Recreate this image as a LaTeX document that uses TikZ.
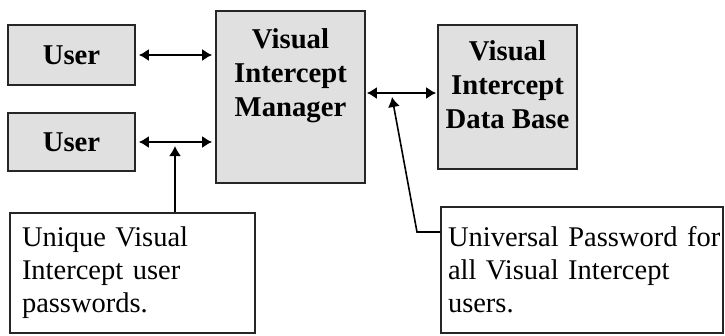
\documentclass[tikz,border=0pt]{standalone}
\usepackage{fontspec}
\setmainfont{Liberation Serif}
\usetikzlibrary{calc, arrows.meta}

\tikzset{
  grbox/.style={draw=black!85, line width=1.7pt, fill=black!12, inner sep=0pt,
    font=\bfseries\fontsize{28.7}{34}\selectfont},
  boxtext/.style={font=\bfseries\fontsize{28.7}{34}\selectfont, align=center, inner sep=0pt},
  notebox/.style={draw=black!85, line width=1.4pt, fill=white, align=left,
    font=\fontsize{28.5}{33}\selectfont},
  link/.style={line width=1.6pt, {Latex[length=10pt,width=12pt]}-{Latex[length=10pt,width=12pt]},
    shorten <=3pt, shorten >=3pt},
  pointer/.style={line width=1.6pt, -{Latex[length=10pt,width=12pt]}},
}

\begin{document}
\begin{tikzpicture}[x=1pt,y=-1pt]
    \useasboundingbox (0,0) rectangle (725,335);
    % grey boxes
    \node[grbox, minimum width=127pt, minimum height=60pt] (user1) at (71.5,55) {User};
    \node[grbox, minimum width=127pt, minimum height=58pt] (user2) at (71.5,142) {User};
    \node[grbox, minimum width=149pt, minimum height=172pt] (vim) at (290.5,97) {};
    \node[boxtext, anchor=north] (vimtext) at ($(vim.north)+(0,18)$) {Visual\\Intercept\\Manager};
    \node[grbox, minimum width=139pt, minimum height=144pt] (db) at (507.5,97) {};
    \node[boxtext, anchor=north] (dbtext) at ($(db.north)+(0,16)$) {Visual\\Intercept\\Data Base};
    % notes
    \node[notebox, minimum width=245pt, minimum height=120pt, text width=221pt, inner xsep=12pt]
        (note1) at (132.5,273) {Unique Visual\\Intercept user\\passwords.};
    \node[notebox, minimum width=282pt, minimum height=126pt, text width=278pt, inner xsep=2pt]
        (note2) at (582,270) {\hspace*{5pt}Universal Password for\\\hspace*{5pt}all Visual Intercept\\\hspace*{5pt}users.};
    % links
    \draw[link] (user1.east) -- (user1.east -| vim.west);
    \draw[link] (user2.east) -- (user2.east -| vim.west);
    \draw[link, shorten <=1pt, shorten >=1pt] ($(vim.east)+(0,-4)$) -- ($(db.west)+(0,-4)$);
    % pointers
    \coordinate (tip1) at (175,146);
    \draw[pointer] (note1.north -| tip1) -- (tip1);
    \coordinate (tip2) at (392,97);
    \coordinate (bend2) at (417,232);
    \draw[pointer] (note2.west |- bend2) -- (bend2) -- (tip2);
\end{tikzpicture}
\end{document}
